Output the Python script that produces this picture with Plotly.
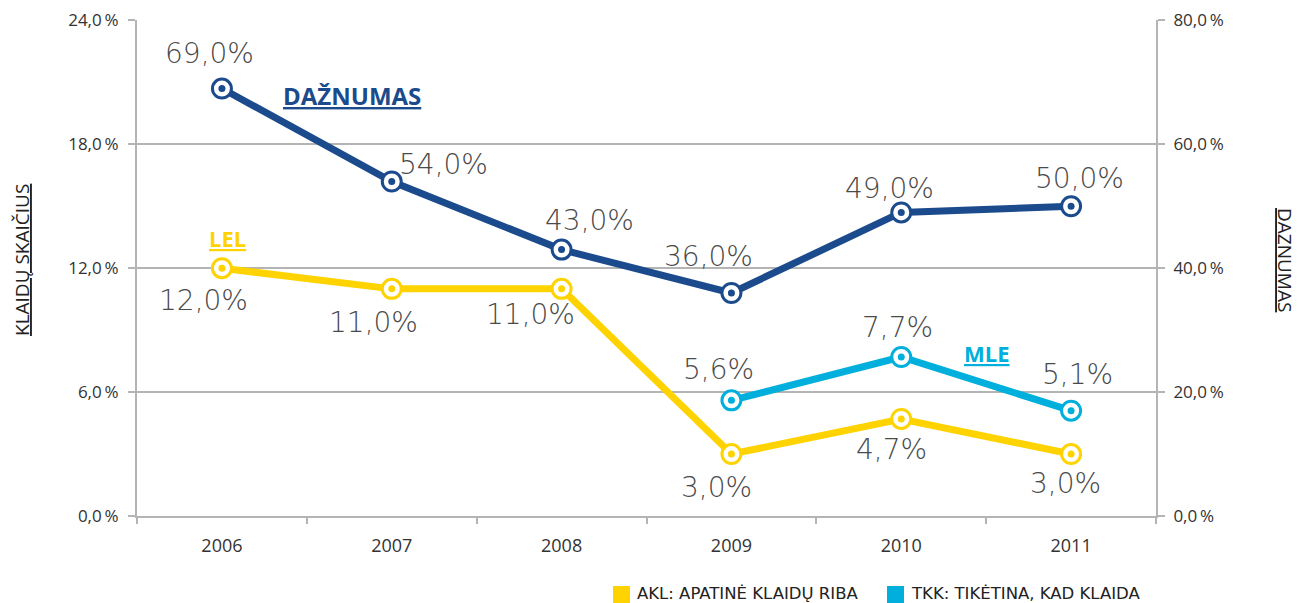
import plotly.graph_objects as go

years = ["2006", "2007", "2008", "2009", "2010", "2011"]
daznumas = [69.0, 54.0, 43.0, 36.0, 49.0, 50.0]
lel = [12.0, 11.0, 11.0, 3.0, 4.7, 3.0]
mle_years = ["2009", "2010", "2011"]
mle = [5.6, 7.7, 5.1]

left_ticks = [0, 6, 12, 18, 24]
right_ticks = [0, 20, 40, 60, 80]
legend_labels = ["AKL: APATINĖ KLAIDŲ RIBA", "TKK: TIKĖTINA, KAD KLAIDA"]

BLUE = "#1B4B8C"
YELLOW = "#FFD300"
CYAN = "#00AFDC"
TXT = "#4a4a4a"
GRID = "#b4b4b4"
FONT = "Open Sans"

W, H = 1300, 603
OFF = 8  # page body margin
SL, ST, SR, SB = 137, 20, 1156, 516
L, T = SL - OFF, ST - OFF
R, B = W - (SR - OFF), H - (SB - OFF)
PW, PH = SR - SL, SB - ST


def pct(v, sep="\u2009"):
    return f"{v:.1f}".replace(".", ",") + sep + "%"


def px(xs):
    return (xs - SL) / PW


def py(ys):
    return (SB - ys) / PH


idx = {y: i for i, y in enumerate(years)}

fig = go.Figure()


def add_series(xs, ys, color, yaxis):
    xi = [idx[x] for x in xs]
    fig.add_trace(go.Scatter(
        x=xi, y=ys, yaxis=yaxis, mode="lines+markers",
        line=dict(color=color, width=7),
        marker=dict(size=19, color="white", line=dict(color=color, width=3)),
        showlegend=False, hoverinfo="skip"))
    fig.add_trace(go.Scatter(
        x=xi, y=ys, yaxis=yaxis, mode="markers",
        marker=dict(size=7, color=color),
        showlegend=False, hoverinfo="skip"))


add_series(years, daznumas, BLUE, "y2")
add_series(years, lel, YELLOW, "y")
add_series(mle_years, mle, CYAN, "y")

LBLFONT = dict(family="DejaVu Sans", size=28, color=TXT, weight=200)

ann = []
d_off = [(-12, 35), (52, 17), (28, 29), (-23, 36), (-12, 24), (8, 28)]
for x, v, (dx, dy) in zip(years, daznumas, d_off):
    ann.append(dict(x=idx[x], y=v, xref="x", yref="y2", text=pct(v, ""), showarrow=False,
                    xshift=dx, yshift=dy, font=LBLFONT))
l_off = [(-18, -32), (-18, -34), (-31, -26), (-15, -33), (-10, -31), (-6, -29)]
for x, v, (dx, dy) in zip(years, lel, l_off):
    ann.append(dict(x=idx[x], y=v, xref="x", yref="y", text=pct(v, ""), showarrow=False,
                    xshift=dx, yshift=dy, font=LBLFONT))
m_off = [(-13, 31), (-4, 30), (6, 36)]
for x, v, (dx, dy) in zip(mle_years, mle, m_off):
    ann.append(dict(x=idx[x], y=v, xref="x", yref="y", text=pct(v, ""), showarrow=False,
                    xshift=dx, yshift=dy, font=LBLFONT))


def tag(xs, ys, text, size, color, angle=0):
    return dict(x=px(xs), y=py(ys), xref="paper", yref="paper", text=text,
                xanchor="center", yanchor="middle", showarrow=False, textangle=angle,
                font=dict(family=FONT, size=size, color=color))


ann += [
    tag(352, 95, "<b><u>DAŽNUMAS</u></b>", 24, BLUE),
    tag(227, 238, "<b><u>LEL</u></b>", 22, YELLOW),
    tag(987, 353, "<b><u>MLE</u></b>", 22, CYAN),
    tag(22, 260, "<u>KLAIDŲ SKAIČIUS</u>", 19, "#222", -90),
    tag(1285, 260, "<u>DAŽNUMAS</u>", 19, "#222", 90),
]

shapes = []
leg_pos = [(613, YELLOW), (887, CYAN)]
for (lx, col), lab in zip(leg_pos, legend_labels):
    shapes.append(dict(type="rect", xref="paper", yref="paper",
                       x0=px(lx), x1=px(lx + 17), y0=py(603), y1=py(586),
                       fillcolor=col, line=dict(width=0)))
    ann.append(dict(x=px(lx + 22), y=py(593), xref="paper", yref="paper", text=lab,
                    xanchor="left", yanchor="middle", showarrow=False,
                    font=dict(family="DejaVu Sans", size=16.5, color="#222")))

TICKFONT = dict(family=FONT, size=17, color="#333")

fig.update_layout(
    width=W, height=H,
    margin=dict(l=L, r=R, t=T, b=B, autoexpand=False),
    paper_bgcolor="white", plot_bgcolor="white",
    font=dict(family=FONT, color="#333"),
    annotations=ann, shapes=shapes,
    showlegend=False,
    xaxis=dict(range=[-0.5, 5.5], tickvals=list(range(len(years))), ticktext=years,
               showgrid=False, showline=True, linecolor=GRID, linewidth=2,
               ticks="", ticklabelstandoff=12,
               tickfont=dict(family=FONT, size=18, color="#333"), zeroline=False),
    xaxis2=dict(range=[-0.5, 5.5], overlaying="x", tickvals=[i - 0.5 for i in range(len(years) + 1)],
                showticklabels=False, ticks="outside", ticklen=7, tickcolor=GRID, tickwidth=2,
                showgrid=False, zeroline=False, side="bottom", showline=False),
    yaxis=dict(range=[0, 24.02], tickvals=left_ticks, ticktext=[pct(v) for v in left_ticks],
               showgrid=True, gridcolor=GRID, gridwidth=1.5, showline=True, linecolor=GRID,
               linewidth=2, ticks="outside", ticklen=7, tickcolor=GRID, tickwidth=2,
               ticklabelstandoff=6, tickfont=TICKFONT, zeroline=False),
    yaxis2=dict(range=[0, 80.066], overlaying="y", side="right", tickvals=right_ticks,
                ticktext=[pct(v) for v in right_ticks], showgrid=False, showline=True,
                linecolor=GRID, linewidth=2, ticks="outside", ticklen=7, tickcolor=GRID,
                tickwidth=2, ticklabelstandoff=5, tickfont=TICKFONT, zeroline=False),
)
fig.add_trace(go.Scatter(x=[None], y=[None], xaxis="x2", showlegend=False, hoverinfo="skip"))

fig.write_html("out.html")
